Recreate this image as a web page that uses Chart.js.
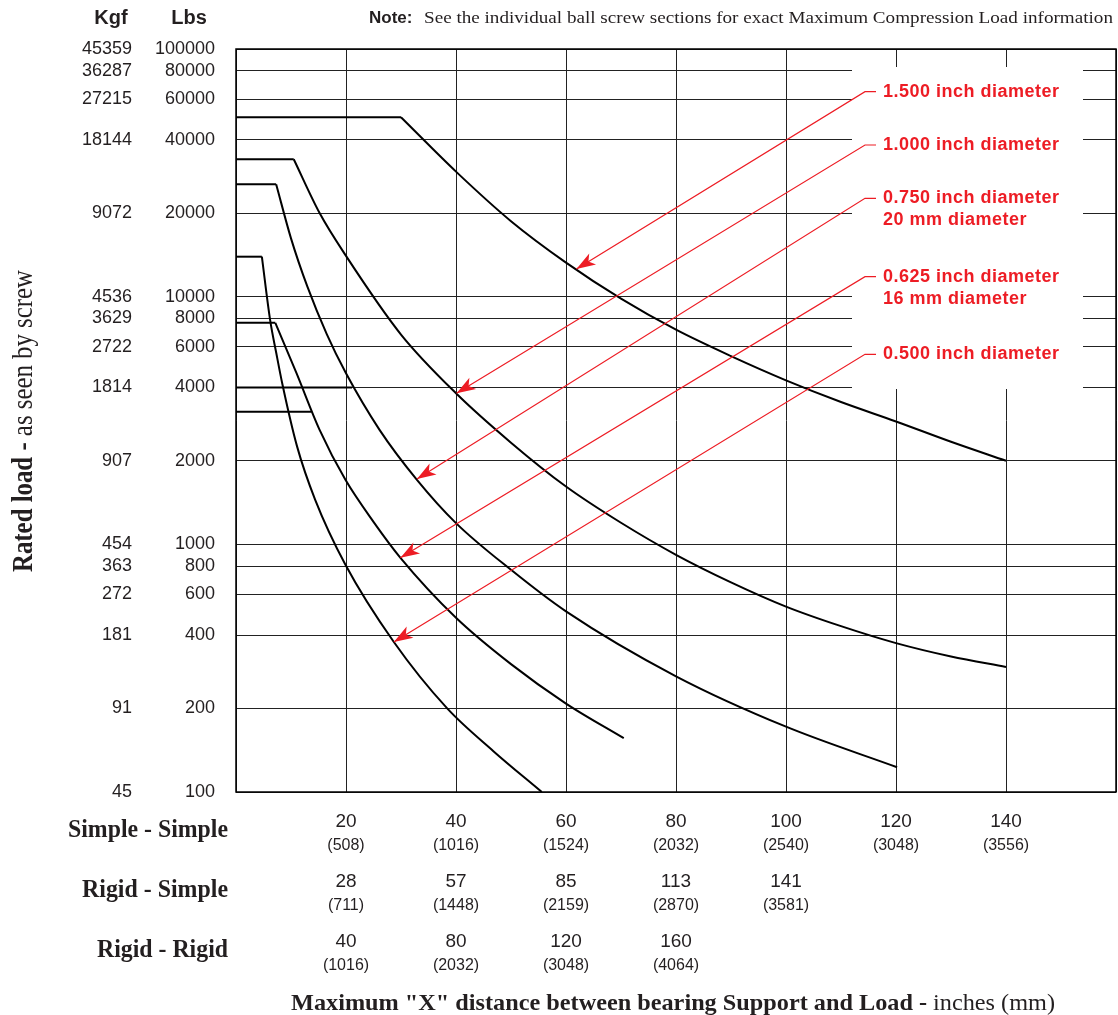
<!DOCTYPE html>
<html>
<head>
<meta charset="utf-8">
<script src="https://cdn.jsdelivr.net/npm/chart.js@4.4.0/dist/chart.umd.min.js"></script>
<style>
  html, body { margin: 0; padding: 0; background: #fff; }
</style>
</head>
<body>
<canvas id="loadChart" width="1118" height="1015"></canvas>
<script>
// rated load axis (lbs) and the matching kgf column
const lbsTicks = [100, 200, 400, 600, 800, 1000, 2000, 4000, 6000, 8000, 10000, 20000, 40000, 60000, 80000, 100000];
const kgfTicks = [45, 91, 181, 272, 363, 454, 907, 1814, 2722, 3629, 4536, 9072, 18144, 27215, 36287, 45359];

// length gridlines (inches) and the three end fixity rows under them
const xGrid = [20, 40, 60, 80, 100, 120, 140];
const simpleSimpleIn = [20, 40, 60, 80, 100, 120, 140];
const simpleSimpleMm = [508, 1016, 1524, 2032, 2540, 3048, 3556];
const rigidSimpleIn = [28, 57, 85, 113, 141];
const rigidSimpleMm = [711, 1448, 2159, 2870, 3581];
const rigidRigidIn = [40, 80, 120, 160];
const rigidRigidMm = [1016, 2032, 3048, 4064];
const rowNames = ['Simple - Simple', 'Rigid - Simple', 'Rigid - Rigid'];

// screw curves, same order everywhere: 1.500, 1.000, 0.750, 0.625, 0.500
const labelLines = [
  ['1.500 inch diameter'],
  ['1.000 inch diameter'],
  ['0.750 inch diameter', '20 mm diameter'],
  ['0.625 inch diameter', '16 mm diameter'],
  ['0.500 inch diameter']
];
// flat part: max load up to a length
const flatLoad = [50000, 33100, 26100, 7650, 13700];
const flatEnd = [30, 10.5, 7.3, 7.15, 4.7];

const len1500 = [30, 40, 50, 60, 70, 80, 90, 100, 110, 120, 130, 140];
const load1500 = [50000, 29400, 18600, 13050, 9800, 7130, 5460, 4290, 3470, 2880, 2380, 2000];
const len1000 = [10.5, 15.2, 20, 30, 40, 50, 60, 70, 80, 90, 100, 110, 120, 130, 140];
const load1000 = [33100, 20000, 13790, 6790, 3780, 2360, 1593, 1180, 898, 678, 531, 437, 370, 325, 294];
const len0750 = [7.3, 10, 13, 16.5, 20, 26.1, 32.9, 40, 50, 60, 80, 100, 120.2];
const load0750 = [26100, 16000, 10760, 6820, 4600, 2660, 1688, 1177, 770, 506, 269, 170, 121];
const len0625 = [7.15, 11, 15.2, 19.9, 25, 29.9, 40, 50, 60, 70.5];
const load0625 = [7650, 4606, 2660, 1688, 1189, 871, 475, 302, 209, 154];
const len0500 = [4.7, 6.2, 7.33, 8.4, 11.1, 14.4, 19.9, 28.7, 38.4, 46.8, 55.6];
const load0500 = [13700, 7880, 5620, 4170, 2280, 1423, 811, 374, 200, 138, 100];

// short heavy limit lines at the left
const capLoad = [4000, 3160];
const capEnd = [21.1, 13.7];

// where each red leader points (length, load)
const arrowLen = [61.9, 40.1, 32.9, 29.9, 28.7];
const arrowLoad = [12400, 3780, 1700, 871, 374];

const curveLens = [len1500, len1000, len0750, len0625, len0500];
const curveLoads = [load1500, load1000, load0750, load0625, load0500];

const SANS = '"Liberation Sans", Arial, Helvetica, sans-serif';
const SERIF = '"Liberation Serif", "Times New Roman", serif';
const INK = '#231f20';
const RED = '#ed1c24';

// the printed load axis is log-like but each decade is stretched a bit
const WARP = 0.3;
const WARP_SPAN = Math.log10((10 - WARP) / (1 - WARP));
function toDecades(v) {
  const k = Math.floor(Math.log10(v) + 1e-9);
  const m = v / Math.pow(10, k);
  return k + Math.log10((m - WARP) / (1 - WARP)) / WARP_SPAN;
}
function fromDecades(d) {
  const k = Math.floor(d);
  return (WARP + (1 - WARP) * Math.pow(10, (d - k) * WARP_SPAN)) * Math.pow(10, k);
}

class LoadScale extends Chart.LogarithmicScale {
  getPixelForValue(value) {
    if (value === undefined || value === null || isNaN(value)) value = this.min;
    const a = toDecades(this.min), b = toDecades(this.max);
    return this.getPixelForDecimal((toDecades(value) - a) / (b - a));
  }
  getValueForPixel(pixel) {
    const a = toDecades(this.min), b = toDecades(this.max);
    return fromDecades(a + this.getDecimalForPixel(pixel) * (b - a));
  }
}
LoadScale.id = 'loadLog';
LoadScale.defaults = {};
Chart.register(LoadScale);

function pts(xs, ys) {
  return xs.map((x, i) => ({ x: x, y: ys[i] }));
}

const datasets = [];
flatLoad.forEach((load, i) => {
  datasets.push({
    data: [{ x: 0, y: load }, { x: flatEnd[i], y: load }],
    showLine: true, borderColor: '#000', borderWidth: 2, pointRadius: 0, tension: 0
  });
  datasets.push({
    data: pts(curveLens[i], curveLoads[i]),
    showLine: true, borderColor: '#000', borderWidth: 2, pointRadius: 0,
    cubicInterpolationMode: 'monotone'
  });
});
capLoad.forEach((load, i) => {
  datasets.push({
    data: [{ x: 0, y: load }, { x: capEnd[i], y: load }],
    showLine: true, borderColor: '#000', borderWidth: 2, pointRadius: 0, tension: 0
  });
});

// Times text in the original is narrow, so squeeze it to the measured width
function serifLine(ctx, parts, x, y, size, width, align) {
  ctx.save();
  let natural = 0;
  parts.forEach(([t, b]) => {
    ctx.font = (b ? 'bold ' : '') + size + 'px ' + SERIF;
    natural += ctx.measureText(t).width;
  });
  const start = align === 'right' ? x - width : align === 'center' ? x - width / 2 : x;
  ctx.translate(start, y);
  ctx.scale(width / natural, 1);
  ctx.textAlign = 'left';
  ctx.textBaseline = 'alphabetic';
  let cx = 0;
  parts.forEach(([t, b]) => {
    ctx.font = (b ? 'bold ' : '') + size + 'px ' + SERIF;
    ctx.fillText(t, cx, 0);
    cx += ctx.measureText(t).width;
  });
  ctx.restore();
}

function drawArrow(ctx, fx, fy, tx, ty) {
  const ang = Math.atan2(ty - fy, tx - fx);
  ctx.save();
  ctx.translate(tx, ty);
  ctx.rotate(ang);
  ctx.beginPath();
  ctx.moveTo(0, 0);
  ctx.lineTo(-19, -6.5);
  ctx.lineTo(-14, 0);
  ctx.lineTo(-19, 6.5);
  ctx.closePath();
  ctx.fill();
  ctx.restore();
}

const overlay = {
  id: 'overlay',
  beforeDatasetsDraw(chart) {
    const { ctx, chartArea: a } = chart;
    // white panel that the diameter labels sit on
    ctx.save();
    ctx.fillStyle = '#fff';
    ctx.fillRect(a.left + 616, a.top + 18, 231, 322);
    ctx.restore();
  },
  afterDatasetsDraw(chart) {
    const { ctx, chartArea: a } = chart;
    const xs = chart.scales.x, ys = chart.scales.y;

    ctx.save();
    ctx.strokeStyle = '#000';
    ctx.lineWidth = 1.5;
    ctx.strokeRect(a.left, a.top, a.right - a.left, a.bottom - a.top);

    // red leaders and labels
    const labelY = [91.7, 145, 198.3, 276.7, 354.3];
    const ax = a.left + 629;
    ctx.strokeStyle = RED;
    ctx.fillStyle = RED;
    ctx.lineWidth = 1.2;
    labelLines.forEach((lines, i) => {
      const ly = labelY[i];
      const tx = xs.getPixelForValue(arrowLen[i]);
      const ty = ys.getPixelForValue(arrowLoad[i]);
      ctx.beginPath();
      ctx.moveTo(ax + 11, ly);
      ctx.lineTo(ax, ly);
      ctx.lineTo(tx, ty);
      ctx.stroke();
      drawArrow(ctx, ax, ly, tx, ty);

      ctx.font = 'bold 18px ' + SANS;
      ctx.letterSpacing = '0.5px';
      ctx.textAlign = 'left';
      ctx.textBaseline = 'middle';
      lines.forEach((t, j) => ctx.fillText(t, ax + 18, ly + j * 22));
      ctx.letterSpacing = '0px';
    });
    ctx.restore();
  },
  afterDraw(chart) {
    const { ctx } = chart;
    const xs = chart.scales.x, ys = chart.scales.y;
    ctx.save();
    ctx.fillStyle = INK;

    // column heads
    ctx.font = 'bold 20px ' + SANS;
    ctx.textAlign = 'center';
    ctx.textBaseline = 'alphabetic';
    ctx.fillText('Kgf', 111, 24);
    ctx.fillText('Lbs', 189, 24);

    // kgf column beside the lbs ticks
    ctx.font = '18px ' + SANS;
    ctx.textAlign = 'right';
    ctx.textBaseline = 'middle';
    lbsTicks.forEach((v, i) => ctx.fillText(String(kgfTicks[i]), 132, ys.getPixelForValue(v)));

    // note line
    ctx.font = 'bold 17px ' + SANS;
    ctx.textAlign = 'left';
    ctx.textBaseline = 'alphabetic';
    ctx.fillText('Note:', 369, 23);
    serifLine(ctx, [['See the individual ball screw sections for exact Maximum Compression Load information', false]], 424, 23, 17, 689, 'left');

    // end fixity rows
    const rows = [[simpleSimpleIn, simpleSimpleMm], [rigidSimpleIn, rigidSimpleMm], [rigidRigidIn, rigidRigidMm]];
    const rowWidth = [160, 146, 131];
    rows.forEach(([ins, mms], r) => {
      const base = 827 + r * 60;
      ctx.textAlign = 'center';
      ins.forEach((v, j) => {
        const px = xs.getPixelForValue(xGrid[j]);
        ctx.font = '19px ' + SANS;
        ctx.fillText(String(v), px, base);
        ctx.font = '16px ' + SANS;
        ctx.fillText('(' + mms[j] + ')', px, base + 23);
      });
      serifLine(ctx, [[rowNames[r], true]], 228, base + 10, 26, rowWidth[r], 'right');
    });

    // axis titles
    serifLine(ctx, [['Maximum "X" distance between bearing Support and Load - ', true], ['inches (mm)', false]], 673, 1010, 24, 764, 'center');
    ctx.save();
    ctx.translate(32, 421);
    ctx.rotate(-Math.PI / 2);
    serifLine(ctx, [['Rated load - ', true], ['as seen by screw', false]], 0, 0, 30, 302, 'center');
    ctx.restore();

    ctx.restore();
  }
};

new Chart(document.getElementById('loadChart'), {
  type: 'scatter',
  data: { datasets: datasets },
  options: {
    responsive: false,
    animation: false,
    layout: { padding: { top: 49, right: 2, bottom: 0, left: 0 } },
    plugins: { legend: { display: false }, tooltip: { enabled: false } },
    scales: {
      x: {
        type: 'linear',
        min: 0,
        max: 160,
        ticks: { stepSize: 20, display: false },
        grid: { color: '#222', lineWidth: 1, drawTicks: false },
        border: { display: false },
        afterFit(s) { s.height = 223; }
      },
      y: {
        type: 'loadLog',
        min: 100,
        max: 100000,
        afterBuildTicks(s) { s.ticks = lbsTicks.map(v => ({ value: v })); },
        ticks: {
          autoSkip: false,
          padding: 21,
          color: INK,
          font: { family: SANS, size: 18 },
          callback: v => String(v)
        },
        grid: { color: '#222', lineWidth: 1, drawTicks: false },
        border: { display: false },
        afterFit(s) { s.width = 236; }
      }
    }
  },
  plugins: [overlay]
});
</script>
</body>
</html>
